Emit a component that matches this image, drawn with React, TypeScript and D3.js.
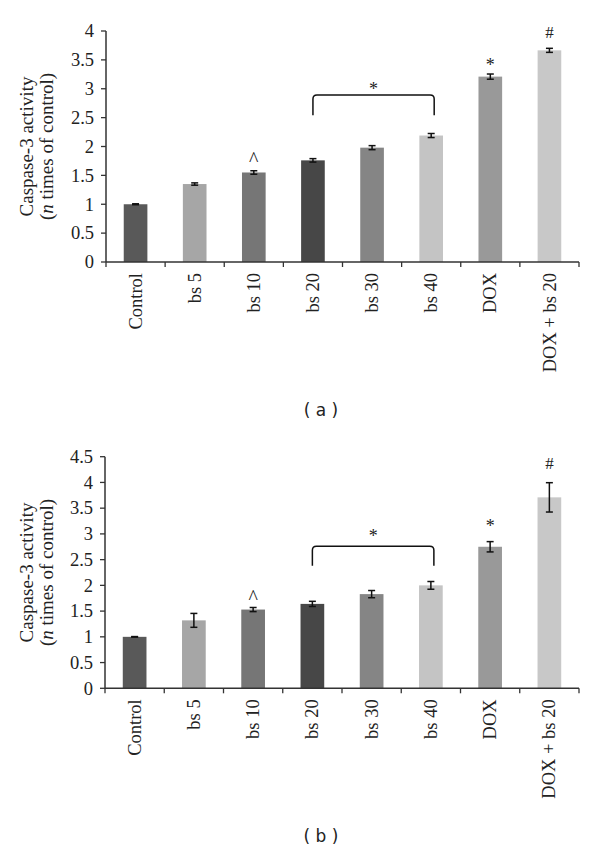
import React from "react";
import * as d3 from "d3";

const categories = ["Control", "bs 5", "bs 10", "bs 20", "bs 30", "bs 40", "DOX", "DOX + bs 20"];
const barColors = ["#595959", "#a6a6a6", "#767676", "#474747", "#858585", "#c4c4c4", "#999999", "#c8c8c8"];

const valuesA = [1.0, 1.35, 1.55, 1.76, 1.98, 2.19, 3.21, 3.665];
const errorsA = [0.008, 0.02, 0.03, 0.03, 0.035, 0.035, 0.045, 0.035];
const ticksA = [0, 0.5, 1, 1.5, 2, 2.5, 3, 3.5, 4];

const valuesB = [1.0, 1.32, 1.53, 1.64, 1.83, 2.0, 2.75, 3.71];
const errorsB = [0.005, 0.135, 0.04, 0.05, 0.07, 0.075, 0.1, 0.285];
const ticksB = [0, 0.5, 1, 1.5, 2, 2.5, 3, 3.5, 4, 4.5];

const markerIndex = [2, 6, 7];
const markerSymbol = ["^", "*", "#"];
const bracketFrom = 3;
const bracketTo = 5;
const bracketSymbol = "*";

const yTitle1 = "Caspase-3 activity";
const yTitle2Pre = "(";
const yTitle2Ital = "n";
const yTitle2Post = " times of control)";

const SERIF = "'Liberation Serif', 'Times New Roman', serif";

type PanelProps = {
  values: number[];
  errors: number[];
  ticks: number[];
  yMax: number;
  x0: number;
  x1: number;
  yTop: number;
  yBottom: number;
  panelLabel: string;
  labelY: number;
  markerGap: number[];
  bracketTop: number;
  bracketLeg: number;
  bracketStarGap: number;
};

function Panel(p: PanelProps) {
  const x = d3.scaleBand<string>().domain(categories).range([p.x0, p.x1]).paddingInner(0.6).paddingOuter(0.3);
  const y = d3.scaleLinear().domain([0, p.yMax]).range([p.yBottom, p.yTop]);
  const step = x.step();
  const bw = x.bandwidth();
  const cx = (i: number) => (x(categories[i]) as number) + bw / 2;
  const mid = (p.yTop + p.yBottom) / 2;
  const capW = 3.5;

  const bxL = cx(bracketFrom);
  const bxR = cx(bracketTo) + 3;
  const byT = y(p.bracketTop);
  const byL = y(p.bracketLeg);
  const r = 4;
  const bracketPath = `M${bxL},${byL} L${bxL},${byT + r} Q${bxL},${byT} ${bxL + r},${byT} L${bxR - r},${byT} Q${bxR},${byT} ${bxR},${byT + r} L${bxR},${byL}`;

  const glyphShift: Record<string, number> = { "^": 0.45, "*": 0.57, "#": 0.34 };
  const glyphSize: Record<string, number> = { "^": 20, "*": 18, "#": 17 };

  return (
    <g>
      {categories.map((c, i) => (
        <rect key={c} x={x(c)} y={y(p.values[i])} width={bw} height={y(0) - y(p.values[i])} fill={barColors[i]} />
      ))}
      {categories.map((c, i) => {
        const xc = cx(i);
        const hi = y(p.values[i] + p.errors[i]);
        const lo = y(p.values[i] - p.errors[i]);
        return (
          <g key={"e" + c} stroke="#111" strokeWidth={1.5}>
            <line x1={xc} x2={xc} y1={hi} y2={lo} />
            <line x1={xc - capW} x2={xc + capW} y1={hi} y2={hi} />
            <line x1={xc - capW} x2={xc + capW} y1={lo} y2={lo} />
          </g>
        );
      })}
      <line x1={p.x0} x2={p.x0} y1={p.yTop} y2={p.yBottom} stroke="#333" strokeWidth={1.5} />
      <line x1={p.x0} x2={p.x1} y1={p.yBottom} y2={p.yBottom} stroke="#333" strokeWidth={1.5} />
      {p.ticks.map((t) => (
        <g key={"t" + t}>
          <line x1={p.x0 - 5} x2={p.x0} y1={y(t)} y2={y(t)} stroke="#333" strokeWidth={1.3} />
          <text x={p.x0 - 12} y={y(t)} dy="0.34em" textAnchor="end" fontFamily={SERIF} fontSize={18.5} fill="#222">
            {String(t)}
          </text>
        </g>
      ))}
      {d3.range(categories.length + 1).map((k) => (
        <line key={"xt" + k} x1={p.x0 + k * step} x2={p.x0 + k * step} y1={p.yBottom} y2={p.yBottom + 5} stroke="#333" strokeWidth={1.3} />
      ))}
      {categories.map((c, i) => (
        <text
          key={"xl" + c}
          transform={`translate(${cx(i)},${p.yBottom + 11}) rotate(-90)`}
          dy="0.33em"
          textAnchor="end"
          fontFamily={SERIF}
          fontSize={18.5}
          fill="#222"
        >
          {c}
        </text>
      ))}
      <text transform={`translate(32.5,${mid}) rotate(-90)`} textAnchor="middle" fontFamily={SERIF} fontSize={19} fill="#222">
        {yTitle1}
      </text>
      <text transform={`translate(52.5,${mid}) rotate(-90)`} textAnchor="middle" fontFamily={SERIF} fontSize={19} fill="#222">
        {yTitle2Pre}
        <tspan fontStyle="italic">{yTitle2Ital}</tspan>
        {yTitle2Post}
      </text>
      {markerIndex.map((idx, k) => {
        const s = markerSymbol[k];
        const top = y(p.values[idx] + p.errors[idx]);
        const center = top - p.markerGap[k];
        const fs = glyphSize[s];
        return (
          <text key={"m" + k} x={cx(idx)} y={center + glyphShift[s] * fs} textAnchor="middle" fontFamily={SERIF} fontSize={fs} fill="#222">
            {s}
          </text>
        );
      })}
      <path d={bracketPath} fill="none" stroke="#111" strokeWidth={1.5} />
      <text
        x={(bxL + bxR) / 2}
        y={byT - p.bracketStarGap + 0.57 * 18}
        textAnchor="middle"
        fontFamily={SERIF}
        fontSize={18}
        fill="#222"
      >
        {bracketSymbol}
      </text>
      <text x={321} y={p.labelY} dy="0.35em" textAnchor="middle" fontFamily="'DejaVu Sans', Verdana, sans-serif" fontSize={17} fill="#222">
        {p.panelLabel}
      </text>
    </g>
  );
}

export default function App() {
  return (
    <svg width={600} height={852} style={{ position: "absolute", left: 0, top: 0, background: "#fff" }}>
      <rect width={600} height={852} fill="#fff" />
      <Panel
        values={valuesA}
        errors={errorsA}
        ticks={ticksA}
        yMax={4}
        x0={106}
        x1={579}
        yTop={31}
        yBottom={262}
        panelLabel="( a )"
        labelY={410}
        markerGap={[14, 13, 16]}
        bracketTop={2.89}
        bracketLeg={2.54}
        bracketStarGap={10}
      />
      <Panel
        values={valuesB}
        errors={errorsB}
        ticks={ticksB}
        yMax={4.5}
        x0={105}
        x1={579}
        yTop={456.7}
        yBottom={688.3}
        panelLabel="( b )"
        labelY={836.5}
        markerGap={[12.5, 20, 19]}
        bracketTop={2.76}
        bracketLeg={2.38}
        bracketStarGap={15}
      />
    </svg>
  );
}
